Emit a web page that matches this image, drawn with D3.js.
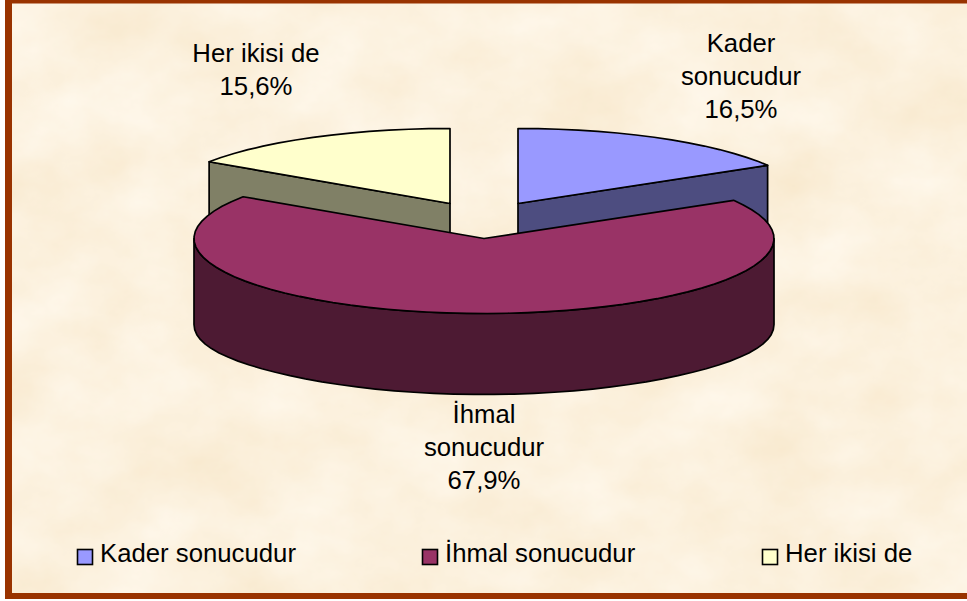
<!DOCTYPE html>
<html>
<head>
<meta charset="utf-8">
<script src="https://d3js.org/d3.v7.min.js"></script>
<style>
  html, body { margin: 0; padding: 0; background: #fff; }
  svg { display: block; }
  text { font-family: "Liberation Sans", Arial, sans-serif; fill: #000; }
</style>
</head>
<body>
<div id="chart"></div>
<script>
// chart data
var categories = ["Kader sonucudur", "İhmal sonucudur", "Her ikisi de"];
var values = [16.5, 67.9, 15.6];
var labelLines = [["Kader", "sonucudur"], ["İhmal", "sonucudur"], ["Her ikisi de"]];

// slice colours
var topColors = ["#9999FF", "#993366", "#FFFFCC"];
var wallColors = ["#4D4D80", "#4D1A33", "#808066"];

// svg container
var svgWidth = 967;
var svgHeight = 601;

var svg = d3.select("#chart").append("svg")
  .attr("width", svgWidth)
  .attr("height", svgHeight);

// parchment background, noise mapped onto cream tones
var paper = svg.append("defs").append("filter")
  .attr("id", "paper")
  .attr("color-interpolation-filters", "sRGB")
  .attr("x", 0).attr("y", 0)
  .attr("width", "100%").attr("height", "100%");
paper.append("feTurbulence")
  .attr("type", "fractalNoise")
  .attr("baseFrequency", "0.011 0.014")
  .attr("numOctaves", 6)
  .attr("seed", 11);
paper.append("feColorMatrix")
  .attr("values", "0.03 0 0 0 0.972  0.07 0 0 0 0.91  0.14 0 0 0 0.80  0 0 0 0 1");

svg.append("rect")
  .attr("x", 5).attr("y", 0)
  .attr("width", svgWidth - 5).attr("height", 599)
  .attr("filter", "url(#paper)");

// brown frame, open on the right
var frameColor = "#993300";
svg.append("rect").attr("x", 5).attr("y", 0).attr("width", svgWidth - 5).attr("height", 3.5).attr("fill", frameColor);
svg.append("rect").attr("x", 5).attr("y", 0).attr("width", 7).attr("height", 599).attr("fill", frameColor);
svg.append("rect").attr("x", 5).attr("y", 593).attr("width", svgWidth - 5).attr("height", 6).attr("fill", frameColor);

// pie geometry, the tilted pie is an ellipse
var centerX = 484;
var centerY = 238.5;
var radiusX = 290;
var radiusY = 75;
var depth = 81;
var sideDepth = 86;
var explode = [[34, -35], [0, 0], [-34, -35]];

var xScale = d3.scaleLinear().domain([-1, 1]).range([centerX - radiusX, centerX + radiusX]);
var yScale = d3.scaleLinear().domain([-1, 1]).range([centerY - radiusY, centerY + radiusY]);

var slices = d3.pie().sort(null).startAngle(0).endAngle(2 * Math.PI)(values);

var line = d3.line();
var step = Math.PI / 45;

function rimPoint(angle, offset, drop) {
  return [
    xScale(Math.sin(angle)) + offset[0],
    yScale(-Math.cos(angle)) + offset[1] + drop
  ];
}

function rim(from, to, offset, drop) {
  var pts = d3.range(from, to, step).map(function(a) { return rimPoint(a, offset, drop); });
  pts.push(rimPoint(to, offset, drop));
  return pts;
}

function apex(offset, drop) {
  return [xScale(0) + offset[0], yScale(0) + offset[1] + drop];
}

var pieGroup = svg.append("g")
  .attr("stroke", "#000")
  .attr("stroke-width", 1.7)
  .attr("stroke-linejoin", "round");

// back slices first, the big slice goes over them
[0, 2, 1].forEach(function(i) {
  var s = slices[i];
  var off = explode[i];

  if (i === 1) {
    // outer wall of the front slice
    var front = rim(Math.PI / 2, 3 * Math.PI / 2, off, 0);
    var bottom = front.map(function(p) {
      var a = (p[0] - centerX) / radiusX;
      var drop = depth + (sideDepth - depth) * Math.pow(Math.abs(a), 6);
      return [p[0], p[1] + drop];
    }).reverse();
    pieGroup.append("path")
      .attr("d", line(front.concat(bottom)) + "Z")
      .attr("fill", wallColors[i]);
  } else {
    // cut face of the pulled out slices
    var edge = i === 0 ? s.endAngle : s.startAngle;
    pieGroup.append("path")
      .attr("d", line([apex(off, 0), rimPoint(edge, off, 0), rimPoint(edge, off, depth), apex(off, depth)]) + "Z")
      .attr("fill", wallColors[i]);
  }

  pieGroup.append("path")
    .attr("d", line([apex(off, 0)].concat(rim(s.startAngle, s.endAngle, off, 0))) + "Z")
    .attr("fill", topColors[i]);
});

// slice labels
var percent = d3.formatLocale({ decimal: ",", thousands: ".", grouping: [3], currency: ["", ""] }).format(".1f");
var fontSize = 25;
var stretch = 1.03;
var lineGap = 33;
var labelX = [741, 484, 256];
var labelY = [52, 423, 62];

function stretchedText(group, x, y, str) {
  return group.append("text")
    .attr("transform", "translate(" + x + "," + y + ") scale(" + stretch + ",1)")
    .style("font-size", fontSize + "px")
    .text(str);
}

var labels = svg.append("g").attr("text-anchor", "middle");
categories.forEach(function(c, i) {
  var lines = labelLines[i].concat(percent(values[i]) + "%");
  lines.forEach(function(t, j) {
    stretchedText(labels, labelX[i], labelY[i] + j * lineGap, t);
  });
});

// legend
var legendX = [77, 422, 762];
var legend = svg.append("g");
categories.forEach(function(c, i) {
  legend.append("rect")
    .attr("x", legendX[i] + 0.5)
    .attr("y", 549.5)
    .attr("width", 15)
    .attr("height", 15)
    .attr("fill", topColors[i])
    .attr("stroke", "#000")
    .attr("stroke-width", 1.6);
  stretchedText(legend, legendX[i] + 23, 562, c);
});
</script>
</body>
</html>
